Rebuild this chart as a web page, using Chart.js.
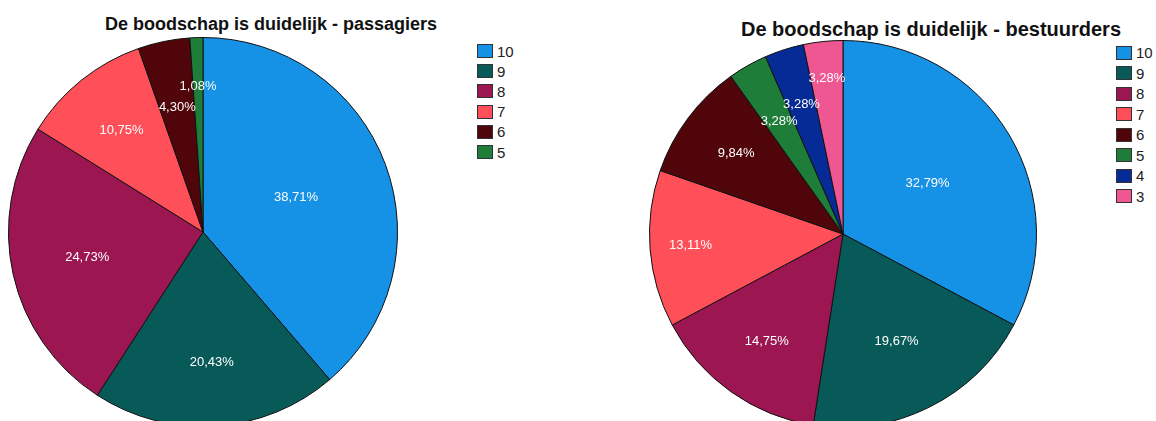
<!DOCTYPE html>
<html>
<head>
<meta charset="utf-8">
<script src="https://cdn.jsdelivr.net/npm/chart.js@4/dist/chart.umd.min.js"></script>
<style>
  html, body { margin: 0; padding: 0; background: #fff; }
  body { width: 1156px; height: 421px; position: relative; overflow: hidden; font-family: "Liberation Sans", Arial, sans-serif; }
  .title { position: absolute; font-weight: bold; color: #111; text-align: center; white-space: nowrap; line-height: 1; }
  .legend { position: absolute; color: #222; }
  .legend .row { display: flex; align-items: center; }
  .legend .box { width: 14px; height: 12px; border: 1px solid #333; margin-right: 4px; }
  canvas { position: absolute; }
</style>
</head>
<body>
<div class="title" id="titleLeft" style="left:0; width:542px; top:15px; font-size:18px;"></div>
<div class="title" id="titleRight" style="left:700px; width:462px; top:19px; font-size:20px;"></div>
<div class="legend" id="legendLeft" style="left:477px; top:41px; font-size:15px;"></div>
<div class="legend" id="legendRight" style="left:1116px; top:42.5px; font-size:15px;"></div>
<canvas id="pieLeft" width="390" height="390" style="left:8px; top:37px;"></canvas>
<canvas id="pieRight" width="388" height="388" style="left:649px; top:40px;"></canvas>
<script>
// --- DATA ---
const titleLeft = 'De boodschap is duidelijk - passagiers';
const titleRight = 'De boodschap is duidelijk - bestuurders';

const labelsPassagiers = ['10', '9', '8', '7', '6', '5'];
const pctPassagiers = [38.71, 20.43, 24.73, 10.75, 4.30, 1.08];

const labelsBestuurders = ['10', '9', '8', '7', '6', '5', '4', '3'];
const pctBestuurders = [32.79, 19.67, 14.75, 13.11, 9.84, 3.28, 3.28, 3.28];

// score colours, same for both charts
const scoreColors = {
    '10': '#1591e6',
    '9': '#085a58',
    '8': '#9c1652',
    '7': '#ff4f59',
    '6': '#50050a',
    '5': '#1e7d38',
    '4': '#062a96',
    '3': '#ef5793'
};

// --- PERCENT LABELS INSIDE THE SLICES ---
const sliceLabels = {
    id: 'sliceLabels',
    afterDatasetsDraw(chart, args, opts) {
        const { ctx } = chart;
        const meta = chart.getDatasetMeta(0);
        const values = chart.data.datasets[0].data;
        ctx.save();
        ctx.fillStyle = '#fff';
        ctx.font = '13px "Liberation Sans", Arial, sans-serif';
        ctx.textAlign = 'center';
        ctx.textBaseline = 'middle';
        meta.data.forEach((arc, i) => {
            const p = arc.getProps(['x', 'y', 'startAngle', 'endAngle', 'outerRadius'], true);
            const mid = (p.startAngle + p.endAngle) / 2;
            const r = p.outerRadius * (opts.radius[i] || 0.65);
            const text = values[i].toFixed(2).replace('.', ',') + '%';
            ctx.fillText(text, p.x + Math.cos(mid) * r, p.y + Math.sin(mid) * r);
        });
        ctx.restore();
    }
};

function buildLegend(el, labels, rowHeight) {
    labels.forEach(lab => {
        const row = document.createElement('div');
        row.className = 'row';
        row.style.height = rowHeight + 'px';
        const box = document.createElement('div');
        box.className = 'box';
        box.style.background = scoreColors[lab];
        const txt = document.createElement('span');
        txt.textContent = lab;
        row.appendChild(box);
        row.appendChild(txt);
        el.appendChild(row);
    });
}

function makePie(id, labels, values, labelRadius) {
    const ctx = document.getElementById(id).getContext('2d');
    return new Chart(ctx, {
        type: 'pie',
        data: {
            labels: labels,
            datasets: [{
                data: values,
                backgroundColor: labels.map(l => scoreColors[l]),
                borderColor: '#111',
                borderWidth: 1
            }]
        },
        options: {
            responsive: false,
            animation: false,
            events: [],
            layout: { padding: 0 },
            plugins: {
                legend: { display: false },
                tooltip: { enabled: false },
                sliceLabels: { radius: labelRadius }
            }
        },
        plugins: [sliceLabels]
    });
}

document.getElementById('titleLeft').textContent = titleLeft;
document.getElementById('titleRight').textContent = titleRight;
buildLegend(document.getElementById('legendLeft'), labelsPassagiers, 20.2);
buildLegend(document.getElementById('legendRight'), labelsBestuurders, 20.5);

makePie('pieLeft', labelsPassagiers, pctPassagiers, [0.51, 0.67, 0.61, 0.67, 0.655, 0.75]);
makePie('pieRight', labelsBestuurders, pctBestuurders, [0.51, 0.62, 0.68, 0.79, 0.69, 0.67, 0.705, 0.81]);
</script>
</body>
</html>
